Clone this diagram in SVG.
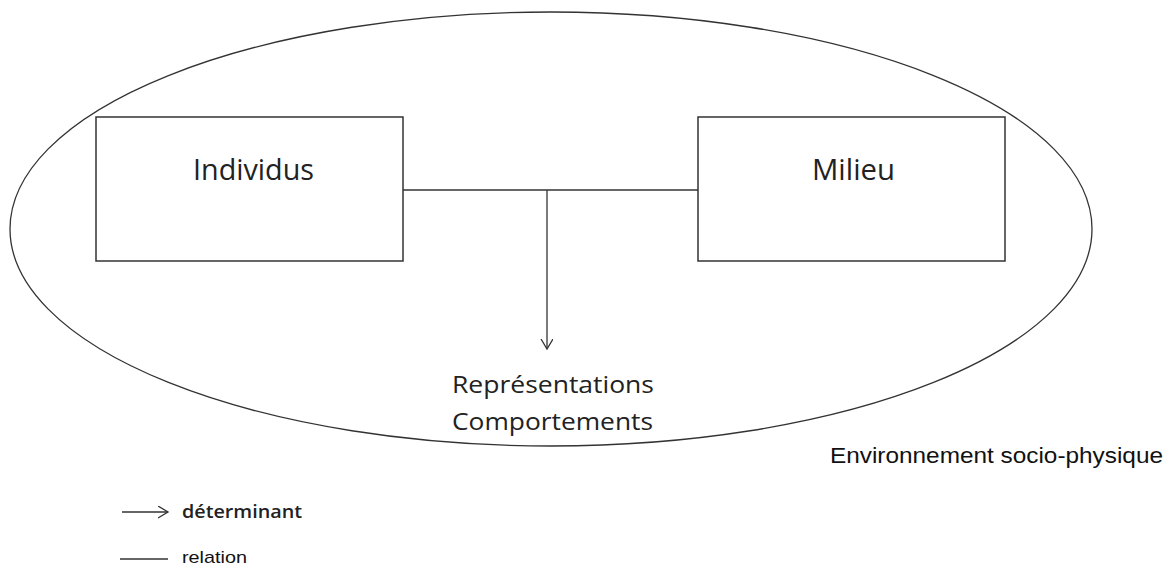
<svg xmlns="http://www.w3.org/2000/svg" width="1170" height="568" viewBox="0 0 1170 568">
<style>
.ln{fill:none;stroke:#333;stroke-width:1.3}
.box{fill:#fff;stroke:#333;stroke-width:1.5}
.lbl{font-family:"Open Sans","Noto Sans",sans-serif;fill:#222}
.sm{font-family:"Liberation Sans",Arial,sans-serif;fill:#111}
</style>
<defs>
<marker id="arr" markerWidth="14" markerHeight="14" refX="10" refY="6" orient="auto" markerUnits="userSpaceOnUse">
<path d="M0,0 L10,6 L0,12" fill="none" stroke="#333" stroke-width="1.3"/>
</marker>
</defs>
<rect width="1170" height="568" fill="#fff"/>
<g id="environnement">
<ellipse cx="551" cy="229" rx="541" ry="217" class="ln"/>
<text x="830" y="463" class="sm" font-size="21.5" textLength="333" lengthAdjust="spacingAndGlyphs">Environnement socio-physique</text>
</g>
<g id="connectors">
<path d="M403,190 H698" class="ln"/>
<path d="M547,190 V349" class="ln" marker-end="url(#arr)"/>
</g>
<g id="individus">
<rect x="96" y="117" width="307" height="144" class="box"/>
<text x="193" y="180" class="lbl" font-size="30" textLength="121" lengthAdjust="spacingAndGlyphs">Individus</text>
</g>
<g id="milieu">
<rect x="698" y="117" width="307" height="144" class="box"/>
<text x="812" y="180" class="lbl" font-size="30" textLength="83" lengthAdjust="spacingAndGlyphs">Milieu</text>
</g>
<g id="resultat">
<text x="452" y="393" class="lbl" font-size="24.5" textLength="202" lengthAdjust="spacingAndGlyphs">Représentations</text>
<text x="452" y="430" class="lbl" font-size="24.5" textLength="201" lengthAdjust="spacingAndGlyphs">Comportements</text>
</g>
<g id="legende">
<path d="M122,512 H168" class="ln" marker-end="url(#arr)"/>
<text x="182" y="518" class="lbl" font-size="18" font-weight="600" textLength="120" lengthAdjust="spacingAndGlyphs">déterminant</text>
<path d="M120,559 H168" class="ln"/>
<text x="182" y="563" class="sm" font-size="17" textLength="65" lengthAdjust="spacingAndGlyphs" fill="#333">relation</text>
</g>
</svg>
